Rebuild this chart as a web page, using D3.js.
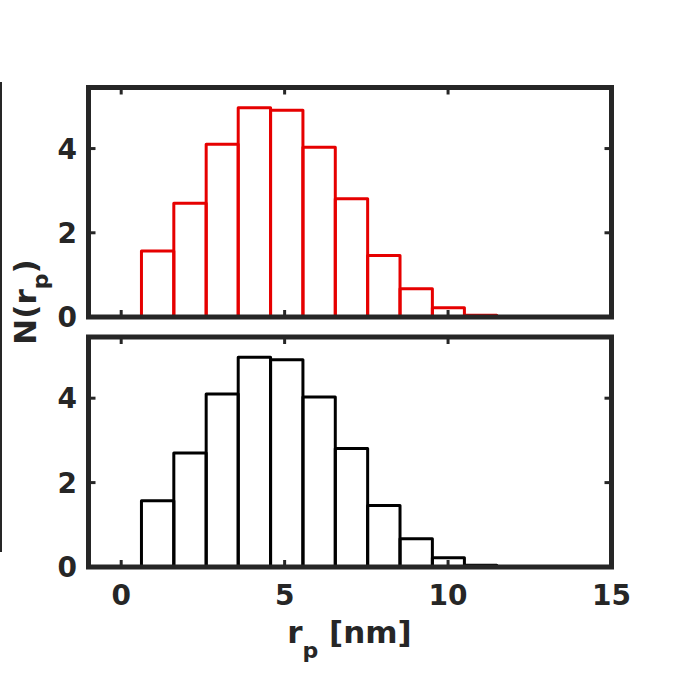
<!DOCTYPE html>
<html>
<head>
<meta charset="utf-8">
<script src="https://cdn.jsdelivr.net/npm/d3@7"></script>
<style>
  html, body { margin: 0; padding: 0; background: #fff; }
  svg { display: block; }
  text { font-family: "DejaVu Sans", sans-serif; font-weight: bold; fill: #262626; }
</style>
</head>
<body>
<svg id="chart" width="675" height="675"></svg>
<script>
// ---- data ----
const binEdges = [0.62, 1.61, 2.60, 3.58, 4.57, 5.56, 6.55, 7.54, 8.53, 9.52, 10.50, 11.49];
const topCounts = [1.57, 2.70, 4.10, 4.97, 4.91, 4.03, 2.81, 1.46, 0.67, 0.22, 0.04];
const bottomCounts = [1.57, 2.70, 4.10, 4.97, 4.91, 4.03, 2.81, 1.46, 0.67, 0.22, 0.04];
const xTicks = [0, 5, 10, 15];
const yTicks = [0, 2, 4];
const xDomain = [-1, 15];
const yDomain = [0, 5.45];

const svg = d3.select("#chart");
const axisColor = "#262626";
const left = 88.5, right = 611.5;
const panels = [
  { top: 87.5, bottom: 317, counts: topCounts, color: "#e60000", xLabels: false },
  { top: 337, bottom: 567, counts: bottomCounts, color: "#000000", xLabels: true }
];

const x = d3.scaleLinear().domain(xDomain).range([left, right]);

// thin stray line at the far left
svg.append("line").attr("x1", 1).attr("x2", 1).attr("y1", 82).attr("y2", 552)
  .attr("stroke", axisColor).attr("stroke-width", 2);

panels.forEach(p => {
  const y = d3.scaleLinear().domain(yDomain).range([p.bottom, p.top]);
  const g = svg.append("g");
  // bars
  const bins = p.counts.map((c, i) => ({ x0: binEdges[i], x1: binEdges[i + 1], v: c }));
  g.selectAll("rect.bar").data(bins).enter().append("rect")
    .attr("class", "bar")
    .attr("x", d => x(d.x0))
    .attr("width", d => x(d.x1) - x(d.x0))
    .attr("y", d => y(d.v))
    .attr("height", d => y(0) - y(d.v))
    .attr("fill", "none")
    .attr("stroke", p.color)
    .attr("stroke-width", 3)
    .attr("stroke-linejoin", "round");

  // ticks (inward)
  const tl = 7;
  xTicks.filter(t => t > xDomain[0] && t < xDomain[1]).forEach(t => {
    g.append("line").attr("x1", x(t)).attr("x2", x(t)).attr("y1", p.bottom).attr("y2", p.bottom - tl)
      .attr("stroke", axisColor).attr("stroke-width", 3);
    g.append("line").attr("x1", x(t)).attr("x2", x(t)).attr("y1", p.top).attr("y2", p.top + tl)
      .attr("stroke", axisColor).attr("stroke-width", 3);
  });
  yTicks.forEach(t => {
    g.append("line").attr("x1", left).attr("x2", left + tl).attr("y1", y(t)).attr("y2", y(t))
      .attr("stroke", axisColor).attr("stroke-width", 3);
    g.append("line").attr("x1", right).attr("x2", right - tl).attr("y1", y(t)).attr("y2", y(t))
      .attr("stroke", axisColor).attr("stroke-width", 3);
  });

  // box
  g.append("rect").attr("x", left).attr("y", p.top)
    .attr("width", right - left).attr("height", p.bottom - p.top)
    .attr("fill", "none").attr("stroke", axisColor).attr("stroke-width", 5);

  // y tick labels
  yTicks.forEach(t => {
    g.append("text").attr("x", 77).attr("y", y(t)).attr("dy", "0.36em")
      .attr("text-anchor", "end").attr("font-size", 28).text(t);
  });
  if (p.xLabels) {
    xTicks.forEach(t => {
      g.append("text").attr("x", x(t)).attr("y", 605)
        .attr("text-anchor", "middle").attr("font-size", 28).text(t);
    });
  }
});

// x label
const xl = svg.append("text").attr("x", 349.5).attr("y", 643)
  .attr("text-anchor", "middle").attr("font-size", 31);
xl.append("tspan").text("r");
xl.append("tspan").attr("font-size", 22).attr("dy", 15).text("p");
xl.append("tspan").attr("dy", -15).text(" [nm]");

// y label
const yl = svg.append("text").attr("transform", "translate(36,302) rotate(-90)")
  .attr("text-anchor", "middle").attr("font-size", 31);
yl.append("tspan").text("N(r");
yl.append("tspan").attr("font-size", 22).attr("dy", 12).text("p");
yl.append("tspan").attr("dy", -12).text(")");
</script>
</body>
</html>
